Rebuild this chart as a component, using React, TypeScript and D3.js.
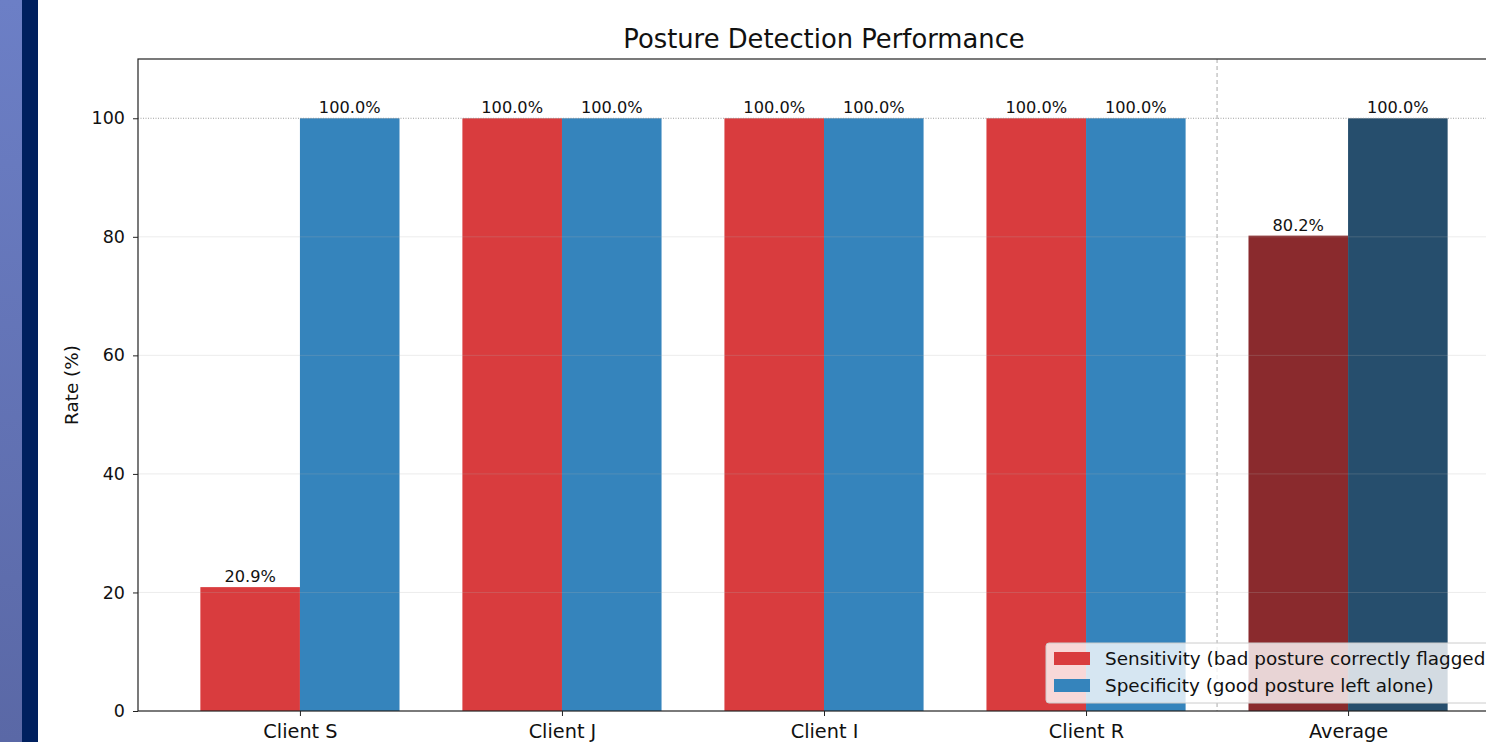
import React, { useEffect, useRef } from 'react';
import * as d3 from 'd3';

const categories = ['Client S', 'Client J', 'Client I', 'Client R', 'Average'];
const sensitivity = [20.9, 100, 100, 100, 80.2];
const specificity = [100, 100, 100, 100, 100];
const yTicks = [0, 20, 40, 60, 80, 100];
const legendLabels = [
  'Sensitivity (bad posture correctly flagged)',
  'Specificity (good posture left alone)',
];

const App = () => {
  const ref = useRef<SVGSVGElement>(null);

  useEffect(() => {
    const svg = d3.select(ref.current);
    svg.selectAll('*').remove();
    const font = 'DejaVu Sans, sans-serif';

    // side decoration strips
    const defs = svg.append('defs');
    const grad = defs.append('linearGradient').attr('id', 'side').attr('x1', 0).attr('y1', 0).attr('x2', 0).attr('y2', 1);
    grad.append('stop').attr('offset', '0%').attr('stop-color', '#6c7fc6');
    grad.append('stop').attr('offset', '100%').attr('stop-color', '#5a68a6');
    svg.append('rect').attr('x', 0).attr('y', 0).attr('width', 22).attr('height', 742).attr('fill', 'url(#side)');
    svg.append('rect').attr('x', 22).attr('y', 0).attr('width', 16).attr('height', 742).attr('fill', '#00205f');

    const left = 138, top = 59, bottom = 711, right = 1510;
    const x = d3.scaleLinear().domain([-0.618, 4.618]).range([left, right]);
    const y = d3.scaleLinear().domain([0, 110]).range([bottom, top]);
    const bw = x(0.38) - x(0);

    const g = svg.append('g');

    const colsS = ['#d93c3e', '#d93c3e', '#d93c3e', '#d93c3e', '#8a2a2d'];
    const colsP = ['#3584bc', '#3584bc', '#3584bc', '#3584bc', '#264e6d'];

    g.selectAll('rect.sens').data(sensitivity).enter().append('rect')
      .attr('x', (d, i) => x(i) - bw).attr('y', d => y(d))
      .attr('width', bw).attr('height', d => y(0) - y(d))
      .attr('fill', (d, i) => colsS[i]);
    g.selectAll('rect.spec').data(specificity).enter().append('rect')
      .attr('x', (d, i) => x(i)).attr('y', d => y(d))
      .attr('width', bw).attr('height', d => y(0) - y(d))
      .attr('fill', (d, i) => colsP[i]);

    // grid
    g.selectAll('line.grid').data(yTicks.filter(t => t > 0 && t < 100)).enter().append('line')
      .attr('x1', left).attr('x2', right).attr('y1', d => y(d)).attr('y2', d => y(d))
      .attr('stroke', '#b0b0b0').attr('stroke-opacity', 0.3).attr('stroke-width', 0.8);

    // 100% reference
    g.append('line').attr('x1', left).attr('x2', right).attr('y1', y(100)).attr('y2', y(100))
      .attr('stroke', '#888').attr('stroke-width', 0.8).attr('stroke-dasharray', '1,1.5');

    // separator before average
    g.append('line').attr('x1', x(3.5)).attr('x2', x(3.5)).attr('y1', top).attr('y2', bottom)
      .attr('stroke', '#aaa').attr('stroke-width', 1).attr('stroke-dasharray', '4,3');

    // value labels
    const lab = (vals: number[], off: number) => g.selectAll(null).data(vals).enter().append('text')
      .attr('x', (d, i) => x(i) + off * bw).attr('y', d => y(d) - 5)
      .attr('text-anchor', 'middle').attr('font-family', font).attr('font-size', 16.2)
      .attr('fill', '#111').text(d => d.toFixed(1) + '%');
    lab(sensitivity, -0.5);
    lab(specificity, 0.5);

    // axes
    const ya = g.append('g').attr('transform', `translate(${left},0)`)
      .call(d3.axisLeft(y).tickValues(yTicks).tickSize(5).tickPadding(8));
    ya.select('.domain').remove();
    ya.selectAll('text').attr('font-family', font).attr('font-size', 17.5).attr('fill', '#111');
    ya.selectAll('line').attr('stroke', '#222');

    const xa = g.append('g').attr('transform', `translate(0,${bottom})`)
      .call(d3.axisBottom(x).tickValues(categories.map((c, i) => i)).tickFormat((d, i) => categories[i]).tickSize(5).tickPadding(8));
    xa.select('.domain').remove();
    xa.selectAll('text').attr('font-family', font).attr('font-size', 19.3).attr('fill', '#111');
    xa.selectAll('line').attr('stroke', '#222');

    // spines
    g.append('rect').attr('x', left).attr('y', top).attr('width', right - left).attr('height', bottom - top)
      .attr('fill', 'none').attr('stroke', '#222').attr('stroke-width', 1.2);

    // title and y label
    svg.append('text').attr('x', (left + right) / 2).attr('y', 48).attr('text-anchor', 'middle')
      .attr('font-family', font).attr('font-size', 25.8).attr('fill', '#111').text('Posture Detection Performance');
    svg.append('text').attr('transform', `translate(78,${(top + bottom) / 2}) rotate(-90)`).attr('text-anchor', 'middle')
      .attr('font-family', font).attr('font-size', 18.4).attr('fill', '#111').text('Rate (%)');

    // legend
    const lg = svg.append('g').attr('transform', 'translate(1046,643)');
    lg.append('rect').attr('width', 500).attr('height', 60).attr('rx', 3)
      .attr('fill', 'white').attr('fill-opacity', 0.8).attr('stroke', '#ccc');
    legendLabels.forEach((t, i) => {
      lg.append('rect').attr('x', 8).attr('y', 9 + i * 27).attr('width', 36).attr('height', 13)
        .attr('fill', i === 0 ? colsS[0] : colsP[0]);
      lg.append('text').attr('x', 59).attr('y', 22 + i * 27).attr('font-family', font).attr('font-size', 18.4)
        .attr('fill', '#111').text(t);
    });
  }, []);

  return (
    <div style={{ position: 'fixed', left: 0, top: 0, width: 1486, height: 742, overflow: 'hidden', background: 'white' }}>
      <svg ref={ref} width={1486} height={742} />
    </div>
  );
};

export default App;
